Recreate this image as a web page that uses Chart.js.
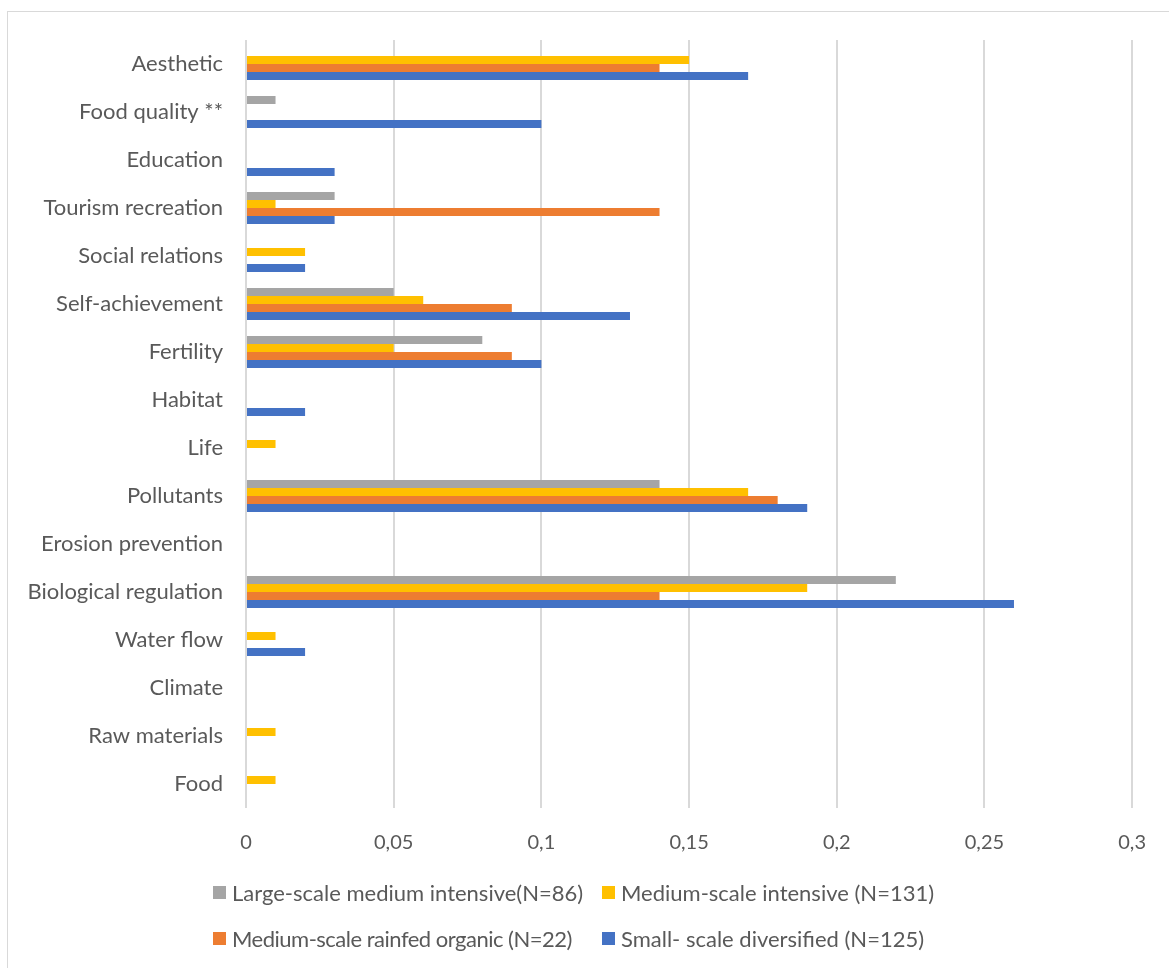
<!DOCTYPE html>
<html>
<head>
<meta charset="utf-8">
<script src="https://cdn.jsdelivr.net/npm/chart.js@4"></script>
<style>
  html, body { margin: 0; padding: 0; background: #fff; overflow: hidden; }
  #wrap { position: relative; width: 1169px; height: 968px; }
  #frame { position: absolute; left: 7px; top: 11px; width: 1200px; height: 1000px; border: 1px solid #d9d9d9; box-sizing: border-box; pointer-events: none; }
  canvas { position: absolute; left: 0; top: 0; }
  .lg { position: absolute; font-family: Lato, sans-serif; font-size: 22px; color: #595959; white-space: nowrap; line-height: 24px; }
  .lg i { position: absolute; left: -19px; top: 5px; width: 13px; height: 13px; }
</style>
</head>
<body>
<div id="wrap">
  <canvas id="c" width="1169" height="968"></canvas>
  <div id="frame"></div>
  <div id="legend"></div>
</div>
<script>
const categories = ["Aesthetic", "Food quality **", "Education", "Tourism recreation", "Social relations", "Self-achievement", "Fertility", "Habitat", "Life", "Pollutants", "Erosion prevention", "Biological regulation", "Water flow", "Climate", "Raw materials", "Food"];
const seriesNames = ["Large-scale medium intensive(N=86)", "Medium-scale intensive (N=131)", "Medium-scale rainfed organic (N=22)", "Small- scale diversified (N=125)"];
const largeScale   = [0, 0.01, 0, 0.03, 0, 0.05, 0.08, 0, 0, 0.14, 0, 0.22, 0, 0, 0, 0];
const mediumInt    = [0.15, 0, 0, 0.01, 0.02, 0.06, 0.05, 0, 0.01, 0.17, 0, 0.19, 0.01, 0, 0.01, 0.01];
const mediumOrg    = [0.14, 0, 0, 0.14, 0, 0.09, 0.09, 0, 0, 0.18, 0, 0.14, 0, 0, 0, 0];
const smallDiv     = [0.17, 0.10, 0.03, 0.03, 0.02, 0.13, 0.10, 0.02, 0, 0.19, 0, 0.26, 0.02, 0, 0, 0];
const xTickLabels  = ["0", "0,05", "0,1", "0,15", "0,2", "0,25", "0,3"];
const colors = ["#A5A5A5", "#FFC000", "#ED7D31", "#4472C4"];

const allSeries = [largeScale, mediumInt, mediumOrg, smallDiv];

new Chart(document.getElementById('c'), {
  type: 'bar',
  data: {
    labels: categories,
    datasets: allSeries.map((d, i) => ({
      label: seriesNames[i],
      data: d,
      backgroundColor: colors[i],
      borderWidth: 0,
      barPercentage: 1,
      categoryPercentage: 0.667
    }))
  },
  options: {
    indexAxis: 'y',
    responsive: false,
    animation: false,
    layout: { padding: { left: 0, right: 35, top: 40, bottom: 0 } },
    plugins: { legend: { display: false }, tooltip: { enabled: false } },
    scales: {
      x: {
        min: 0, max: 0.3,
        ticks: {
          stepSize: 0.05,
          callback: (v, i) => xTickLabels[i],
          color: '#595959',
          font: { family: 'Lato', size: 20 },
          padding: 23,
          maxRotation: 0
        },
        grid: { color: '#d9d9d9', lineWidth: 2, drawTicks: false },
        border: { display: false },
        afterFit: s => { s.height = 160; }
      },
      y: {
        ticks: {
          color: '#595959',
          font: { family: 'Lato', size: 22 },
          padding: 23
        },
        grid: { display: false, drawTicks: false },
        border: { display: false },
        afterFit: s => { s.width = 246; }
      }
    }
  }
});

const legendPos = [[232, 881], [621, 881], [232, 927], [621, 927]];
const legendSpacing = ['0px', '0px', '-0.5px', '0px'];
const lg = document.getElementById('legend');
seriesNames.forEach((n, i) => {
  const d = document.createElement('div');
  d.className = 'lg';
  d.style.left = legendPos[i][0] + 'px';
  d.style.top = legendPos[i][1] + 'px';
  d.style.letterSpacing = legendSpacing[i];
  d.innerHTML = '<i style="background:' + colors[i] + '"></i>';
  d.appendChild(document.createTextNode(n));
  lg.appendChild(d);
});
</script>
</body>
</html>
